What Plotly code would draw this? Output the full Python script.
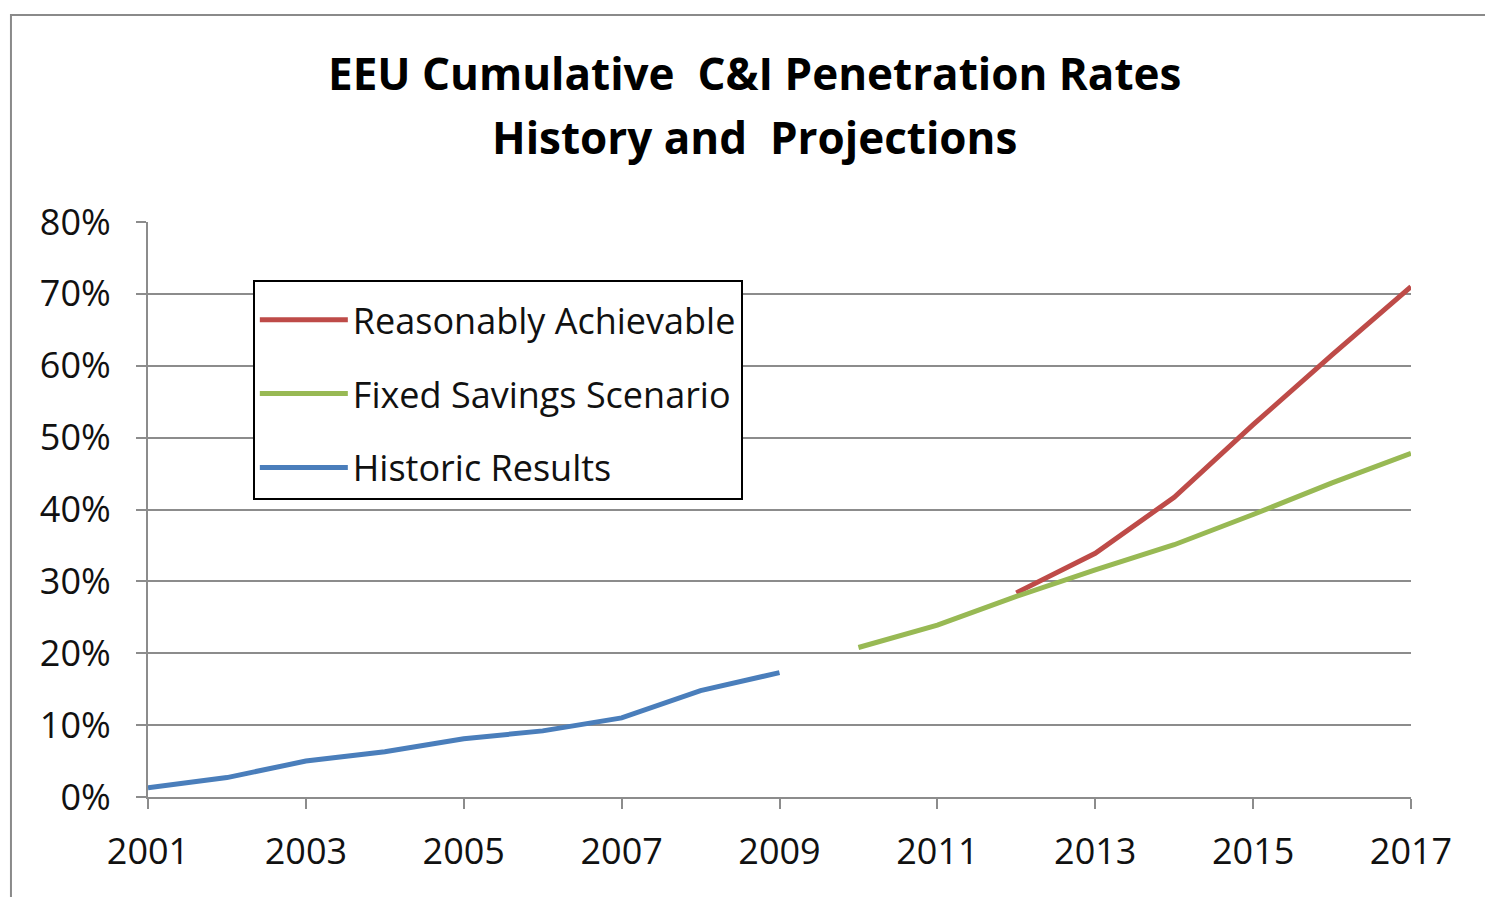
import plotly.graph_objects as go

# Data (percent)
hist_years = [2001, 2002, 2003, 2004, 2005, 2006, 2007, 2008, 2009]
hist_vals = [1.3, 2.7, 5.0, 6.3, 8.1, 9.2, 11.0, 14.8, 17.3]

fixed_years = [2010, 2011, 2012, 2013, 2014, 2015, 2016, 2017]
fixed_vals = [20.8, 23.9, 27.9, 31.6, 35.1, 39.3, 43.7, 47.8]

reach_years = [2012, 2013, 2014, 2015, 2016, 2017]
reach_vals = [28.4, 33.9, 41.7, 51.8, 61.5, 71.0]

title_lines = ["EEU Cumulative  C&I Penetration Rates", "History and  Projections"]

font_family = "Open Sans, Liberation Sans, sans-serif"
grid_col = "#8c8c8c"

fig = go.Figure()

fig.add_trace(go.Scatter(
    x=hist_years, y=hist_vals, mode="lines", name="Historic Results",
    line=dict(color="#4A7EBB", width=5), legendrank=3, legendgroup="h"
))
fig.add_trace(go.Scatter(
    x=reach_years, y=reach_vals, mode="lines", name="Reasonably Achievable",
    line=dict(color="#BE4B48", width=5), legendrank=1, legendgroup="r"
))
fig.add_trace(go.Scatter(
    x=fixed_years, y=fixed_vals, mode="lines", name="Fixed Savings Scenario",
    line=dict(color="#98B954", width=5), legendrank=2, legendgroup="f"
))

# outer chart border (image frame)
fig.add_shape(type="rect", xref="paper", yref="paper",
              x0=-0.1085, x1=1.2, y0=-0.3, y1=1.36,
              line=dict(color="#8a8a8a", width=2), layer="below")

# two-line title
for txt, yy in zip(title_lines, [1.259, 1.148]):
    fig.add_annotation(text="<b>" + txt + "</b>", xref="paper", yref="paper",
                       x=0.48, y=yy, xanchor="center", yanchor="middle",
                       showarrow=False, font=dict(size=44, color="#000000"))

fig.update_layout(
    width=1493, height=897,
    margin=dict(l=140, r=90, t=214, b=108),
    paper_bgcolor="white", plot_bgcolor="white",
    font=dict(family=font_family, color="#111111"),
    showlegend=True,
    legend=dict(
        x=0.083, y=0.899, xanchor="left", yanchor="top",
        bgcolor="white", bordercolor="#000000", borderwidth=2,
        font=dict(size=36, color="#111111"),
        title=dict(text=" ", font=dict(size=6)),
        tracegroupgap=24, itemwidth=88,
    ),
    xaxis=dict(
        range=[2001, 2017], dtick=2, tick0=2001,
        showgrid=False, showline=True, linecolor=grid_col, linewidth=2,
        ticks="outside", ticklen=10, tickcolor=grid_col, tickwidth=2,
        tickfont=dict(size=36), zeroline=False, ticklabelstandoff=12,
    ),
    yaxis=dict(
        range=[0, 80], dtick=10, ticksuffix="%",
        showgrid=True, gridcolor=grid_col, gridwidth=2,
        showline=True, linecolor=grid_col, linewidth=2,
        ticks="outside", ticklen=10, tickcolor=grid_col, tickwidth=2,
        tickfont=dict(size=36), zeroline=False, ticklabelstandoff=18,
    ),
)

fig.write_html("out.html")
